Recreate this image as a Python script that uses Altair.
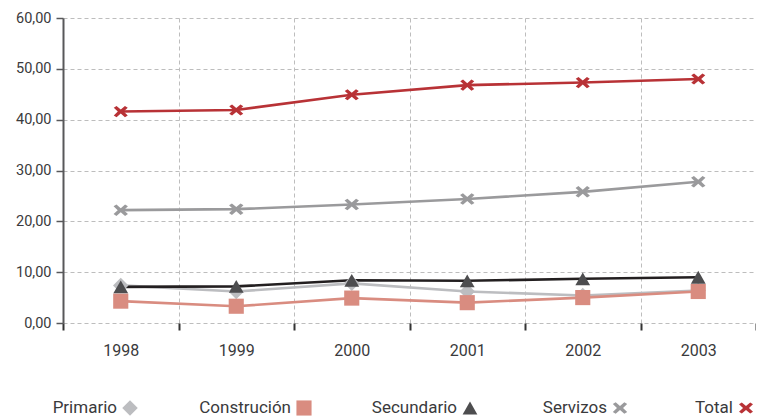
import altair as alt
import pandas as pd

years = ["1998", "1999", "2000", "2001", "2002", "2003"]
series = ["Primario", "Construción", "Secundario", "Servizos", "Total"]
primario = [7.4, 6.2, 7.8, 6.2, 5.4, 6.4]
construcion = [4.3, 3.3, 4.9, 4.0, 5.0, 6.2]
secundario = [7.1, 7.2, 8.4, 8.3, 8.7, 9.0]
servizos = [22.2, 22.4, 23.3, 24.4, 25.8, 27.8]
total = [41.6, 41.9, 44.9, 46.8, 47.3, 48.0]

line_colors = ["#bcbdc0", "#d98c80", "#231f20", "#9a9a9c", "#b83236"]
fill_colors = ["#bcbdc0", "#d98c80", "#4d4d4f", "#9a9a9c", "#b83236"]
x_path = "M-1,-0.55 L-0.6,-0.8 L0,-0.28 L0.6,-0.8 L1,-0.55 L0.42,0 L1,0.55 L0.6,0.8 L0,0.28 L-0.6,0.8 L-1,0.55 L-0.42,0 Z"
shapes = ["diamond", "square", "triangle-up", x_path, x_path]
sizes = [240, 196, 190, 300, 340]

values = {"Primario": primario, "Construción": construcion, "Secundario": secundario,
          "Servizos": servizos, "Total": total}
draw_order = ["Primario", "Servizos", "Construción", "Secundario", "Total"]
rows = []
for s in draw_order:
    for y, v in zip(years, values[s]):
        rows.append({"year": y, "series": s, "value": v})
df = pd.DataFrame(rows)
legend_df = pd.DataFrame({"series": series, "order": list(range(len(series)))})

font = "Roboto, Liberation Sans, sans-serif"
W, H = 693, 305

fill_enc = alt.Fill("series:N", scale=alt.Scale(domain=series, range=fill_colors), legend=None)
shape_enc = alt.Shape("series:N", scale=alt.Scale(domain=series, range=shapes), legend=None)
size_enc = alt.Size("series:N", scale=alt.Scale(domain=series, range=sizes), legend=None)

x_enc = alt.X("year:O", scale=alt.Scale(type="band", paddingInner=0, paddingOuter=0),
              axis=alt.Axis(title=None, labelAngle=0, tickBand="extent", domain=False,
                            tickSize=7, tickWidth=2, tickColor="#333333",
                            labelFontSize=16, labelPadding=12, labelColor="#3a3a3c",
                            labelFont=font,
                            grid=True, gridColor="#bdbdbd", gridDash=[4, 3], gridWidth=1))
y_enc = alt.Y("value:Q", scale=alt.Scale(domain=[0, 60], nice=False),
              axis=alt.Axis(title=None, values=[0, 10, 20, 30, 40, 50, 60],
                            labelExpr="replace(format(datum.value, '.2f'), '.', ',')",
                            domainColor="#58585a", domainWidth=2,
                            tickColor="#58585a", tickSize=7, tickWidth=1.5,
                            labelFontSize=14.5, labelPadding=5, labelColor="#3a3a3c",
                            labelFont=font,
                            grid=True, gridColor="#bdbdbd", gridDash=[4, 3], gridWidth=1))

lines = alt.Chart(df).mark_line(strokeWidth=2.6).encode(
    x=x_enc, y=y_enc,
    stroke=alt.Stroke("series:N", scale=alt.Scale(domain=series, range=line_colors), legend=None),
    detail="series:N",
)
points = alt.Chart(df).mark_point(filled=True, opacity=1).encode(
    x=x_enc, y=y_enc, fill=fill_enc, shape=shape_enc, size=size_enc,
)
main = alt.layer(lines, points)

# legend: label placed before its symbol, laid out from the label lengths
leg_base = alt.Chart(legend_df).transform_calculate(
    w="length(datum.series) * 8"
).transform_window(
    cum="sum(w)", sort=[alt.SortField("order")], frame=[None, 0]
).transform_calculate(
    sx="-16 + datum.cum + datum.order * 86 + 19"
)
leg_x = alt.X("sx:Q", scale=alt.Scale(domain=[0, W], range=[0, W]), axis=None)
leg_text = leg_base.mark_text(align="right", baseline="middle", dx=-13,
                              fontSize=17, font=font, color="#3a3a3c").encode(
    x=leg_x, y=alt.value(390), text="series:N")
leg_pts = leg_base.mark_point(filled=True, opacity=1).encode(
    x=leg_x, y=alt.value(390), fill=fill_enc, shape=shape_enc, size=size_enc)
legend = alt.layer(leg_text, leg_pts)

chart = alt.layer(main, legend).resolve_scale(x="independent").properties(
    width=W, height=H,
    autosize=alt.AutoSizeParams(type="none"),
    padding={"left": 55, "top": 10, "right": 0, "bottom": 95},
).configure_view(stroke=None)

chart.save("out.html", embed_options={"renderer": "svg", "actions": False})
